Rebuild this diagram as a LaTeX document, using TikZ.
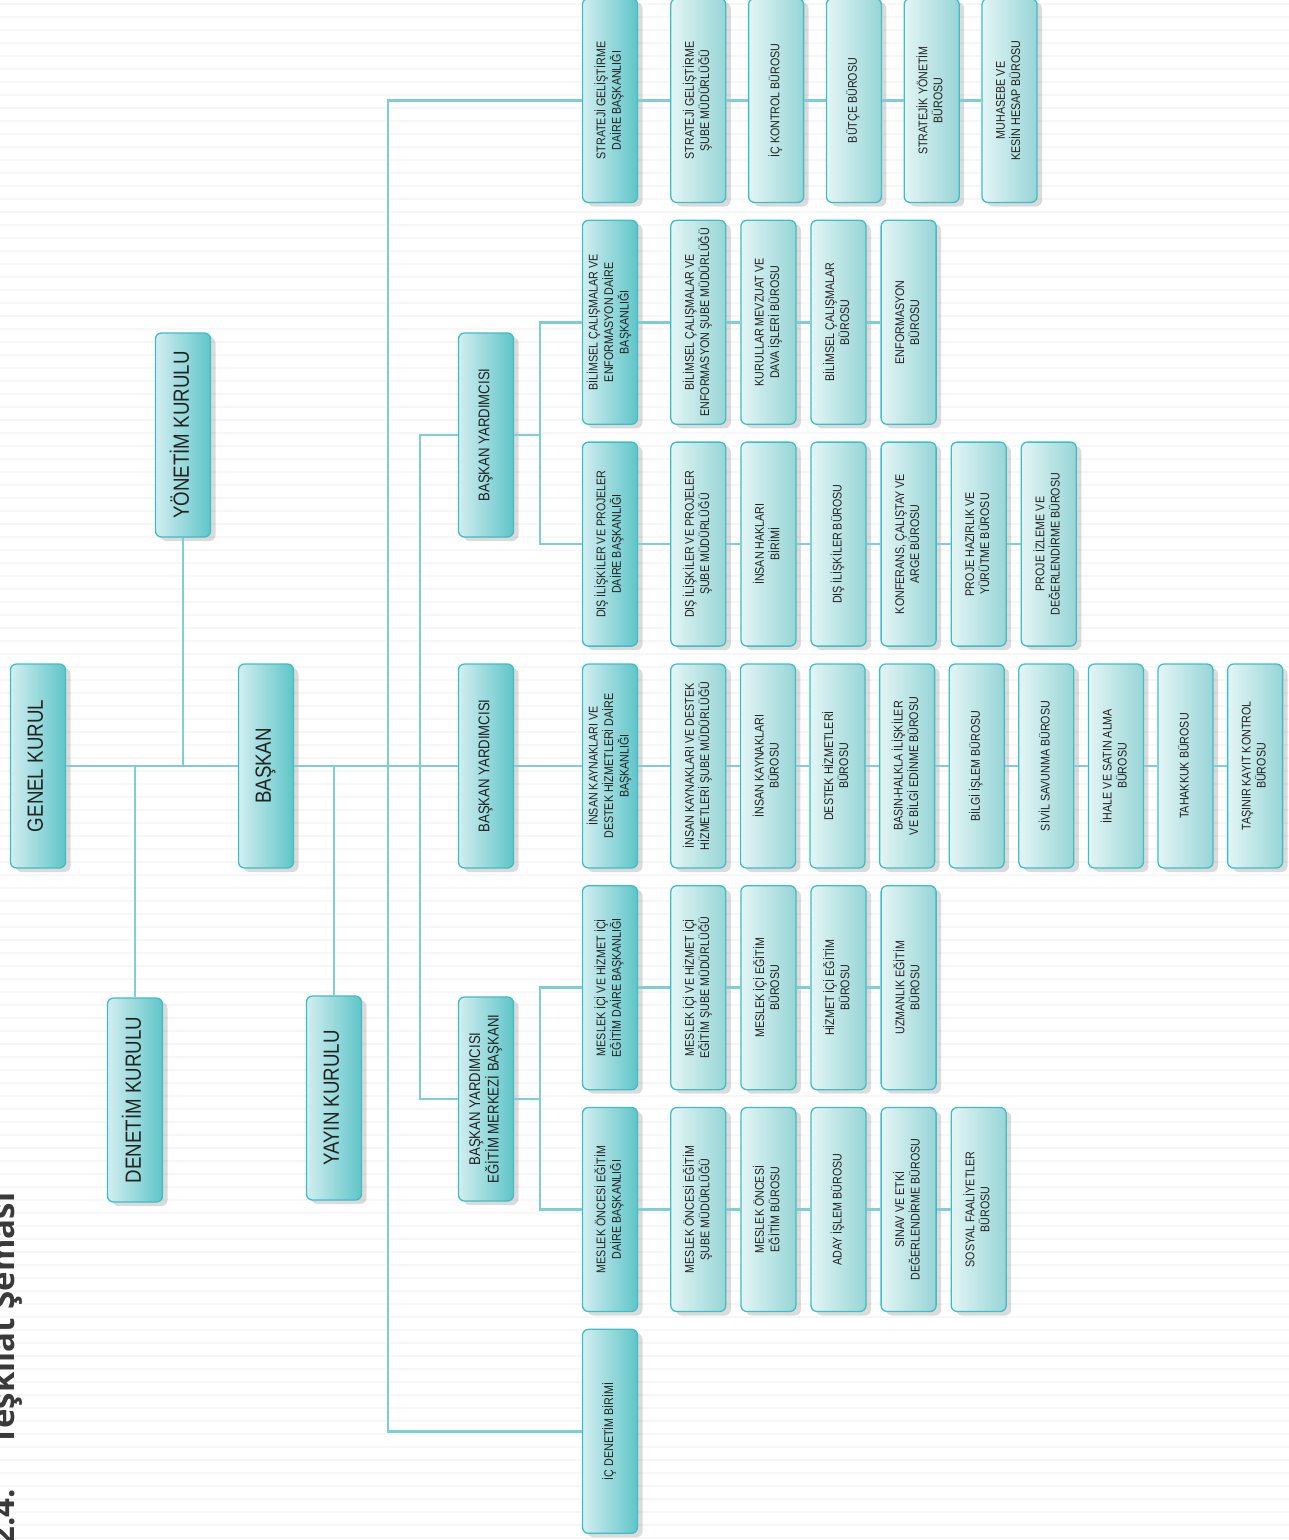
\documentclass[tikz,border=0pt]{standalone}
\usepackage{fontspec}
\setmainfont{Liberation Sans}[FakeStretch=0.85]
\newfontfamily\titlefont{Open Sans}
\usepackage{graphicx}
\usetikzlibrary{positioning,shadows}
\definecolor{boxline}{HTML}{3EBEC6}
\definecolor{connC}{HTML}{7FCFD2}
\definecolor{darkL}{HTML}{D2EEF0}
\definecolor{darkM}{HTML}{86D3D5}
\definecolor{darkR}{HTML}{5FC5C8}
\definecolor{subL}{HTML}{E4F5F5}
\definecolor{subM}{HTML}{B0E0E1}
\definecolor{subR}{HTML}{97D5D6}
\definecolor{txtC}{HTML}{222222}
\definecolor{titleC}{HTML}{3A3A3A}
\newcommand{\vtext}[1]{\rotatebox{90}{\begin{tabular}{@{}c@{}}#1\end{tabular}}}

\begin{document}
\begin{tikzpicture}
  [x=1pt,y=-1pt,
   boxN/.style={draw=boxline,line width=1.3pt,rounded corners=6pt,
     minimum width=55pt,minimum height=204pt,inner sep=0pt,text=txtC,
     drop shadow={shadow xshift=5pt,shadow yshift=-4pt,opacity=0.2,fill=black!70}},
   topN/.style={boxN,left color=darkL,middle color=darkM,right color=darkR,
     font=\fontsize{22}{24}\selectfont},
   byN/.style={boxN,left color=darkL,middle color=darkM,right color=darkR,
     font=\fontsize{15.5}{17}\selectfont},
   dairN/.style={boxN,left color=darkL,middle color=darkM,right color=darkR,
     font=\fontsize{12.6}{15.5}\selectfont},
   subN/.style={boxN,left color=subL,middle color=subM,right color=subR,
     font=\fontsize{12.6}{15}\selectfont},
   conn/.style={draw=connC,line width=2.6pt},
   node distance=13.8pt]

  \useasboundingbox (0,0) rectangle (1289,1540);
  % background
  \foreach \yy in {4,17,...,1540}
    \draw [black!3,line width=1.2pt] (0,\yy) -- (1289,\yy);

  \node[rotate=90,anchor=base west,inner sep=0pt,text=titleC,
        font=\titlefont\bfseries\fontsize{33}{36}\selectfont] (ttl)
        at (14,1546) {2.4.\hspace{44pt}Teşkilat Şeması};

  % left part
  \node[topN] (gk)  at (38,766)   {\vtext{GENEL KURUL}};
  \node[topN] (bsk) at (266,766)  {\vtext{BAŞKAN}};
  \node[topN] (yk)  at (183,435)  {\vtext{YÖNETİM KURULU}};
  \node[topN] (dk)  at (135,1100) {\vtext{DENETİM KURULU}};
  \node[topN] (yay) at (334,1098) {\vtext{YAYIN KURULU}};

  \node[byN] (by1) at (486,435)  {\vtext{BAŞKAN YARDIMCISI}};
  \node[byN] (by2) at (486,766)  {\vtext{BAŞKAN YARDIMCISI}};
  \node[byN] (by3) at (486,1099) {\vtext{BAŞKAN YARDIMCISI\\EĞİTİM MERKEZİ BAŞKANI}};

  % daire rows
  \node[dairN] (d1) at (610,100.5) {\vtext{STRATEJİ GELİŞTİRME\\DAİRE BAŞKANLIĞI}};
  \node[subN] (s1a) [right=32pt of d1]    {\vtext{STRATEJİ GELİŞTİRME\\ŞUBE MÜDÜRLÜĞÜ}};
  \node[subN] (s1b) [right=21.5pt of s1a] {\vtext{İÇ KONTROL BÜROSU}};
  \node[subN] (s1c) [right=21.5pt of s1b] {\vtext{BÜTÇE BÜROSU}};
  \node[subN] (s1d) [right=21.5pt of s1c] {\vtext{STRATEJİK YÖNETİM\\BÜROSU}};
  \node[subN] (s1e) [right=21.5pt of s1d] {\vtext{MUHASEBE VE\\KESİN HESAP BÜROSU}};

  \node[dairN] (d2) at (610,322.3) {\vtext{BİLİMSEL ÇALIŞMALAR VE\\ENFORMASYON DAİRE\\BAŞKANLIĞI}};
  \node[subN] (s2a) [right=32pt of d2] {\vtext{BİLİMSEL ÇALIŞMALAR VE\\ENFORMASYON ŞUBE MÜDÜRLÜĞÜ}};
  \node[subN] (s2b) [right=of s2a] {\vtext{KURULLAR MEVZUAT VE\\DAVA İŞLERİ BÜROSU}};
  \node[subN] (s2c) [right=of s2b] {\vtext{BİLİMSEL ÇALIŞMALAR\\BÜROSU}};
  \node[subN] (s2d) [right=of s2c] {\vtext{ENFORMASYON\\BÜROSU}};

  \node[dairN] (d3) at (610,544.1) {\vtext{DIŞ İLİŞKİLER VE PROJELER\\DAİRE BAŞKANLIĞI}};
  \node[subN] (s3a) [right=32pt of d3] {\vtext{DIŞ İLİŞKİLER VE PROJELER\\ŞUBE MÜDÜRLÜĞÜ}};
  \node[subN] (s3b) [right=of s3a] {\vtext{İNSAN HAKLARI\\BİRİMİ}};
  \node[subN] (s3c) [right=of s3b] {\vtext{DIŞ İLİŞKİLER BÜROSU}};
  \node[subN] (s3d) [right=of s3c] {\vtext{KONFERANS, ÇALIŞTAY VE\\ARGE BÜROSU}};
  \node[subN] (s3e) [right=of s3d] {\vtext{PROJE HAZIRLIK VE\\YÜRÜTME BÜROSU}};
  \node[subN] (s3f) [right=of s3e] {\vtext{PROJE İZLEME VE\\DEĞERLENDİRME BÜROSU}};

  \node[dairN] (d4) at (610,766) {\vtext{İNSAN KAYNAKLARI VE\\DESTEK HİZMETLERİ DAİRE\\BAŞKANLIĞI}};
  \node[subN] (s4a) [right=32pt of d4] {\vtext{İNSAN KAYNAKLARI VE DESTEK\\HİZMETLERİ ŞUBE MÜDÜRLÜĞÜ}};
  \node[subN] (s4b) [right=13.3pt of s4a] {\vtext{İNSAN KAYNAKLARI\\BÜROSU}};
  \node[subN] (s4c) [right=13.3pt of s4b] {\vtext{DESTEK HİZMETLERİ\\BÜROSU}};
  \node[subN] (s4d) [right=13.3pt of s4c] {\vtext{BASIN-HALKLA İLİŞKİLER\\VE BİLGİ EDİNME BÜROSU}};
  \node[subN] (s4e) [right=13.3pt of s4d] {\vtext{BİLGİ İŞLEM BÜROSU}};
  \node[subN] (s4f) [right=13.3pt of s4e] {\vtext{SİVİL SAVUNMA BÜROSU}};
  \node[subN] (s4g) [right=13.3pt of s4f] {\vtext{İHALE VE SATIN ALMA\\BÜROSU}};
  \node[subN] (s4h) [right=13.3pt of s4g] {\vtext{TAHAKKUK BÜROSU}};
  \node[subN] (s4i) [right=13.3pt of s4h] {\vtext{TAŞINIR KAYIT KONTROL\\BÜROSU}};

  \node[dairN] (d5) at (610,987.7) {\vtext{MESLEK İÇİ VE HİZMET İÇİ\\EĞİTİM DAİRE BAŞKANLIĞI}};
  \node[subN] (s5a) [right=32pt of d5] {\vtext{MESLEK İÇİ VE HİZMET İÇİ\\EĞİTİM ŞUBE MÜDÜRLÜĞÜ}};
  \node[subN] (s5b) [right=of s5a] {\vtext{MESLEK İÇİ EĞİTİM\\BÜROSU}};
  \node[subN] (s5c) [right=of s5b] {\vtext{HİZMET İÇİ EĞİTİM\\BÜROSU}};
  \node[subN] (s5d) [right=of s5c] {\vtext{UZMANLIK EĞİTİM\\BÜROSU}};

  \node[dairN] (d6) at (610,1209.5) {\vtext{MESLEK ÖNCESİ EĞİTİM\\DAİRE BAŞKANLIĞI}};
  \node[subN] (s6a) [right=32pt of d6] {\vtext{MESLEK ÖNCESİ EĞİTİM\\ŞUBE MÜDÜRLÜĞÜ}};
  \node[subN] (s6b) [right=of s6a] {\vtext{MESLEK ÖNCESİ\\EĞİTİM BÜROSU}};
  \node[subN] (s6c) [right=of s6b] {\vtext{ADAY İŞLEM BÜROSU}};
  \node[subN] (s6d) [right=of s6c] {\vtext{SINAV VE ETKİ\\DEĞERLENDİRME BÜROSU}};
  \node[subN] (s6e) [right=of s6d] {\vtext{SOSYAL FAALİYETLER\\BÜROSU}};

  \node[dairN] (d7) at (610,1431.3) {\vtext{İÇ DENETİM BİRİMİ}};

  % junctions
  \coordinate (jy) at (183,766);
  \coordinate (jd) at (135,766);
  \coordinate (jp) at (334,766);
  \coordinate (t1) at (388,766);
  \coordinate (t2) at (420,766);
  \coordinate (e1) at (540,435);
  \coordinate (e3) at (540,1099);

  \draw [conn] (gk) -- (bsk);
  \draw [conn] (bsk) -- (by2);
  \draw [conn] (by2) -- (d4);
  \draw [conn] (yk) -- (jy);
  \draw [conn] (jd) -- (dk);
  \draw [conn] (jp) -- (yay);
  \draw [conn] (d1) -| (t1) |- (d7);
  \draw [conn] (by1) -| (t2) |- (by3);
  \draw [conn] (by1) -- (e1);
  \draw [conn] (d2) -| (e1) |- (d3);
  \draw [conn] (by3) -- (e3);
  \draw [conn] (d5) -| (e3) |- (d6);

  \draw [conn] (d1) -- (s1a) (s1a) -- (s1b) (s1b) -- (s1c) (s1c) -- (s1d) (s1d) -- (s1e);
  \draw [conn] (d2) -- (s2a) (s2a) -- (s2b) (s2b) -- (s2c) (s2c) -- (s2d);
  \draw [conn] (d3) -- (s3a) (s3a) -- (s3b) (s3b) -- (s3c) (s3c) -- (s3d) (s3d) -- (s3e)
               (s3e) -- (s3f);
  \draw [conn] (d4) -- (s4a) (s4a) -- (s4b) (s4b) -- (s4c) (s4c) -- (s4d) (s4d) -- (s4e)
               (s4e) -- (s4f) (s4f) -- (s4g) (s4g) -- (s4h) (s4h) -- (s4i);
  \draw [conn] (d5) -- (s5a) (s5a) -- (s5b) (s5b) -- (s5c) (s5c) -- (s5d);
  \draw [conn] (d6) -- (s6a) (s6a) -- (s6b) (s6b) -- (s6c) (s6c) -- (s6d) (s6d) -- (s6e);

\end{tikzpicture}
\end{document}
